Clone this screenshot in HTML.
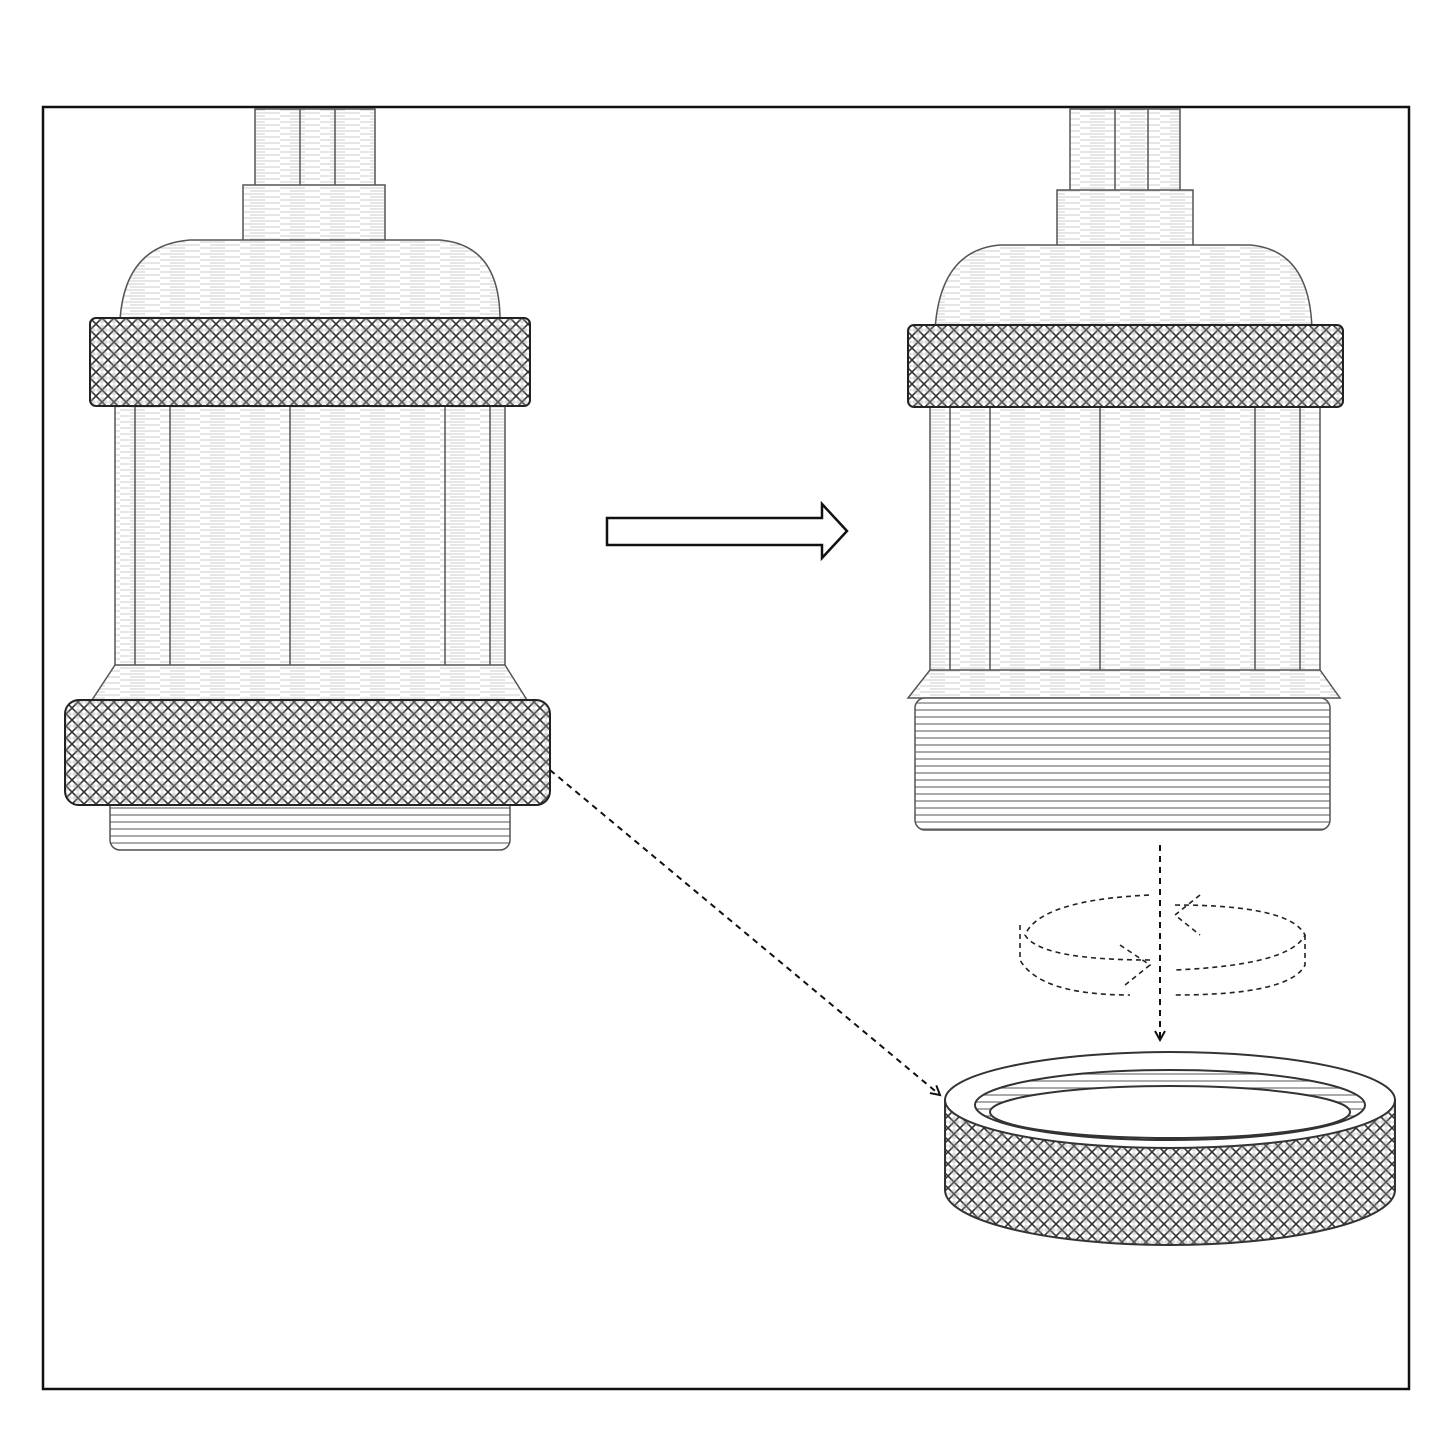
<!DOCTYPE html>
<html><head><meta charset="utf-8"><style>html,body{margin:0;padding:0;background:#fff}svg{display:block}</style></head>
<body>
<svg width="1445" height="1445" viewBox="0 0 1445 1445" xmlns="http://www.w3.org/2000/svg">
<defs>
<pattern id="knurl" width="12" height="12" patternUnits="userSpaceOnUse">
<rect width="12" height="12" fill="#fff"/>
<path d="M0 0L12 12M12 0L0 12" stroke="#333" stroke-width="1.6"/>
<path d="M6 0L12 6L6 12L0 6Z" fill="#999" opacity="0.35"/>
</pattern>
<pattern id="brush" width="40" height="6" patternUnits="userSpaceOnUse">
<rect width="40" height="6" fill="#fff"/>
<path d="M0 2H25M10 5H40" stroke="#ccc" stroke-width="1"/>
</pattern>
<pattern id="thread" width="20" height="14" patternUnits="userSpaceOnUse">
<rect width="20" height="14" fill="#fff"/>
<path d="M0 3H20M0 10H20" stroke="#777" stroke-width="1.3"/>
</pattern>
<marker id="ah" markerWidth="12" markerHeight="12" refX="10" refY="6" orient="auto" markerUnits="userSpaceOnUse">
<path d="M1 1L10 6L1 11" fill="none" stroke="#111" stroke-width="2"/>
</marker>
</defs>
<rect x="43" y="107" width="1366" height="1282" fill="#fff" stroke="#111" stroke-width="2.5"/>

<!-- LEFT holder -->
<g stroke="#555" stroke-width="1.5">
<rect x="255" y="109" width="120" height="80" fill="url(#brush)"/>
<line x1="300" y1="109" x2="300" y2="189"/><line x1="335" y1="109" x2="335" y2="189"/>
<rect x="243" y="185" width="142" height="58" fill="url(#brush)"/>
<path d="M120 320 Q125 245 190 240 L440 240 Q500 245 500 320 Z" fill="url(#brush)"/>
<rect x="115" y="405" width="390" height="262" fill="url(#brush)"/>
<line x1="170" y1="405" x2="170" y2="667"/><line x1="290" y1="405" x2="290" y2="667"/><line x1="445" y1="405" x2="445" y2="667"/>
<line x1="135" y1="405" x2="135" y2="667"/><line x1="490" y1="405" x2="490" y2="667"/>
<path d="M115 665 L505 665 L527 700 L92 700 Z" fill="url(#brush)"/>
<rect x="110" y="795" width="400" height="55" rx="10" fill="url(#thread)"/>
<rect x="90" y="318" width="440" height="88" rx="6" fill="url(#knurl)" stroke="#222" stroke-width="2"/>
<rect x="65" y="700" width="485" height="105" rx="14" fill="url(#knurl)" stroke="#222" stroke-width="2"/>
</g>

<!-- RIGHT holder -->
<g stroke="#555" stroke-width="1.5">
<rect x="1070" y="109" width="110" height="85" fill="url(#brush)"/>
<line x1="1115" y1="109" x2="1115" y2="194"/><line x1="1148" y1="109" x2="1148" y2="194"/>
<rect x="1057" y="190" width="136" height="57" fill="url(#brush)"/>
<path d="M935 330 Q940 250 1000 245 L1250 245 Q1310 250 1312 330 Z" fill="url(#brush)"/>
<rect x="930" y="405" width="390" height="267" fill="url(#brush)"/>
<line x1="950" y1="405" x2="950" y2="672"/><line x1="990" y1="405" x2="990" y2="672"/><line x1="1100" y1="405" x2="1100" y2="672"/><line x1="1255" y1="405" x2="1255" y2="672"/><line x1="1300" y1="405" x2="1300" y2="672"/>
<path d="M930 670 L1320 670 L1340 698 L908 698 Z" fill="url(#brush)"/>
<rect x="915" y="698" width="415" height="132" rx="10" fill="url(#thread)"/>
<rect x="908" y="325" width="435" height="82" rx="6" fill="url(#knurl)" stroke="#222" stroke-width="2"/>
</g>

<!-- hollow arrow -->
<path d="M607 518 L822 518 L822 504 L847 531 L822 558 L822 545 L607 545 Z" fill="#fff" stroke="#111" stroke-width="2.5"/>

<!-- dashed connectors -->
<line x1="550" y1="770" x2="940" y2="1095" stroke="#111" stroke-width="2" stroke-dasharray="6,5" marker-end="url(#ah)"/>
<line x1="1160" y1="845" x2="1160" y2="1040" stroke="#111" stroke-width="2" stroke-dasharray="6,5" marker-end="url(#ah)"/>

<!-- rotation arrows -->
<g fill="none" stroke="#222" stroke-width="1.6" stroke-dasharray="5,4">
<path d="M1150 960 Q1040 960 1025 935 Q1040 900 1150 895"/>
<path d="M1020 925 L1020 960 Q1040 995 1130 995"/>
<path d="M1120 945 L1150 965 L1125 985"/>
<path d="M1175 905 Q1290 905 1305 935 Q1290 965 1175 970"/>
<path d="M1305 935 L1305 965 Q1290 995 1175 995"/>
<path d="M1200 895 L1175 915 L1200 935"/>
</g>

<!-- ring -->
<g stroke="#333" stroke-width="2">
<path d="M945 1100 L945 1190 A225 55 0 0 0 1395 1190 L1395 1100 Z" fill="url(#knurl)"/>
<ellipse cx="1170" cy="1100" rx="225" ry="48" fill="#fff"/>
<ellipse cx="1170" cy="1105" rx="195" ry="35" fill="url(#thread)"/>
<ellipse cx="1170" cy="1112" rx="180" ry="26" fill="#fff"/>
</g>
</svg>
</body></html>
